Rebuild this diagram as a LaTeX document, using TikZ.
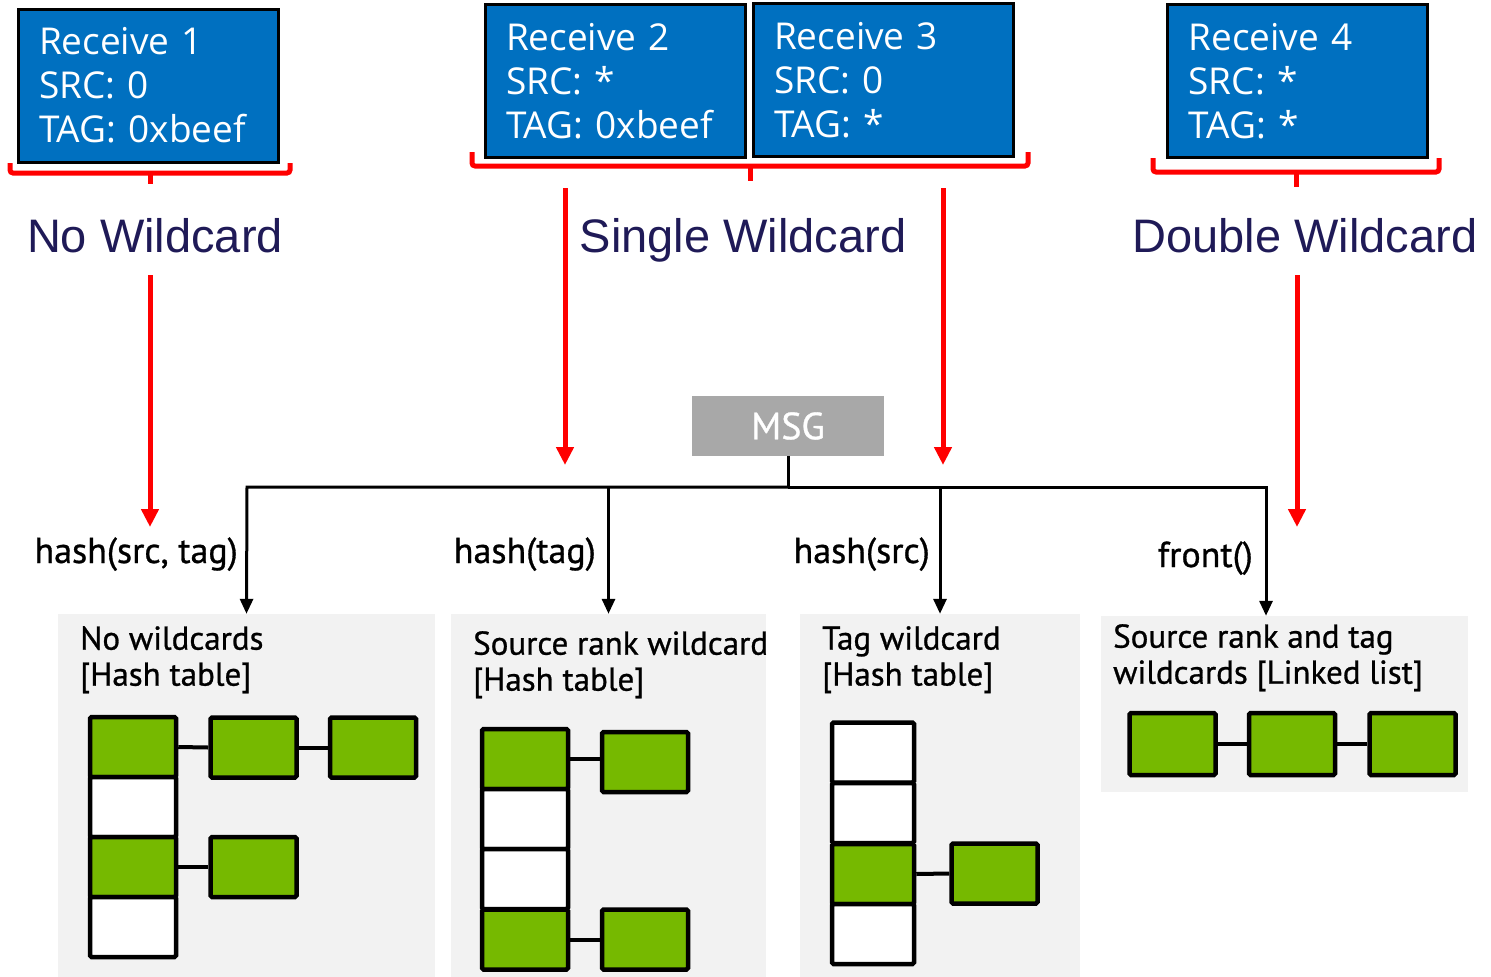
\documentclass[tikz,border=0pt]{standalone}
\usepackage{fontspec}
\setmainfont{Liberation Sans}
\newfontfamily\boxfont{Open Sans}
\newfontfamily\labfont[FakeBold=0.8]{PT Sans}
\usetikzlibrary{arrows.meta}

\definecolor{rblue}{HTML}{0070C0}
\definecolor{bred}{HTML}{FF0000}
\definecolor{navy}{HTML}{1F1A57}
\definecolor{msggray}{HTML}{A8A8A8}
\definecolor{panelgray}{HTML}{F2F2F2}
\definecolor{ngreen}{HTML}{76B900}

\tikzset{
  recvbox/.style={draw=black, line width=3pt, fill=rblue, text=white,
    font=\boxfont\fontsize{37}{44}\selectfont, align=left,
    text width=218pt, inner xsep=21pt, minimum height=153pt},
  brk/.style={draw=bred, line width=5pt, rounded corners=3pt},
  title/.style={text=navy, font=\fontsize{47}{52}\selectfont, anchor=base, inner sep=0pt},
  redarrow/.style={draw=bred, line width=5pt, -{Triangle[width=17pt,length=18pt]}},
  tree/.style={draw=black, line width=3pt},
  treearrow/.style={tree, -{Triangle[width=13pt,length=15pt]}},
  msgbox/.style={fill=msggray, text=white, font=\labfont\fontsize{38}{44}\selectfont,
    minimum width=192pt, minimum height=60pt, inner sep=0pt},
  fnlabel/.style={font=\labfont\fontsize{36}{40}\selectfont, anchor=base east, inner sep=0pt},
  panel/.style={fill=panelgray, inner sep=0pt},
  ptext/.style={font=\labfont\fontsize{33}{36}\selectfont, align=left, anchor=north west, inner sep=0pt},
  cell/.style={draw=black, line width=4.5pt, minimum width=86pt, minimum height=60pt,
    inner sep=0pt, rounded corners=1.5pt},
  cellg/.style={cell, fill=ngreen},
  cellw/.style={cell, fill=white},
  link/.style={draw=black, line width=4pt}
}

\begin{document}
\begin{tikzpicture}[x=1pt, y=-1pt]
\useasboundingbox (0,0) rectangle (1491,977);

% receive requests
\node[recvbox] (r1) at (148,85.5) {Receive 1\\SRC: 0\\TAG: 0xbeef};
\node[recvbox] (r2) at (615,81) {Receive 2\\SRC: *\\TAG: 0xbeef};
\node[recvbox] (r3) at (883,80) {Receive 3\\SRC: 0\\TAG: *};
\node[recvbox] (r4) at (1297.5,81) {Receive 4\\SRC: *\\TAG: *};

% grouping brackets
\draw[brk] (10,163) -- (10,173) -- (290,173) -- (290,163);
\draw[brk] (150,173) -- (150,184);
\draw[brk] (472,152) -- (472,166) -- (1028,166) -- (1028,152);
\draw[brk] (750,166) -- (750,181);
\draw[brk] (1153,158) -- (1153,172) -- (1439,172) -- (1439,158);
\draw[brk] (1296,172) -- (1296,187);

% category titles
\node[title] (t1) at (155,252) {No Wildcard};
\node[title] (t2) at (743,252) {Single Wildcard};
\node[title] (t3) at (1305,252) {Double Wildcard};

% red arrows
\coordinate (a1s) at (150,275);  \coordinate (a1e) at (150,527);
\coordinate (a2s) at (565,188);  \coordinate (a2e) at (565,465);
\coordinate (a3s) at (943,188);  \coordinate (a3e) at (943,465);
\coordinate (a4s) at (1297,275); \coordinate (a4e) at (1297,527);
\draw[redarrow] (a1s) -- (a1e);
\draw[redarrow] (a2s) -- (a2e);
\draw[redarrow] (a3s) -- (a3e);
\draw[redarrow] (a4s) -- (a4e);

% panels
\node[panel, minimum width=377pt, minimum height=363pt] (p1) at (246.5,795.5) {};
\node[panel, minimum width=315pt, minimum height=363pt] (p2) at (608.5,795.5) {};
\node[panel, minimum width=280pt, minimum height=363pt] (p3) at (940,795.5) {};
\node[panel, minimum width=367pt, minimum height=176pt] (p4) at (1284.5,704) {};

% incoming message and its dispatch
\node[msgbox] (msg) at (788,426) {MSG};
\coordinate (bus) at (788,487);
\coordinate (b1) at (247,487);
\coordinate (b2) at (608.5,487);
\coordinate (b3) at (940,487);
\coordinate (b4) at (1266,487);
\draw[tree] (msg.south) -- (bus);
\draw[treearrow] (bus) -- (b1) -- (p1.north);
\draw[treearrow] (b2) -- (p2.north);
\draw[treearrow] (b3) -- (p3.north);
\draw[treearrow] (bus) -- (b4) -- (b4 |- p4.north);

\node[fnlabel] (l1) at (238,563) {hash(src, tag)};
\node[fnlabel] (l2) at (596,563) {hash(tag)};
\node[fnlabel] (l3) at (930,563) {hash(src)};
\node[fnlabel] (l4) at (1253,567) {front()};

% panel captions
\node[ptext] (c1) at (80,626) {No wildcards\\{}[Hash table]};
\node[ptext] (c2) at (473,631) {Source rank wildcard\\{}[Hash table]};
\node[ptext] (c3) at (822,626) {Tag wildcard\\{}[Hash table]};
\node[ptext] (c4) at (1113,624) {Source rank and tag\\wildcards [Linked list]};

% no wildcards: hash table
\node[cellg] (n1) at (133,747) {};
\node[cellw] (n2) at (133,807) {};
\node[cellg] (n3) at (133,867) {};
\node[cellw] (n4) at (133,927) {};
\node[cellg] (n1a) at (253.5,747.5) {};
\node[cellg] (n1b) at (373,747.5) {};
\node[cellg] (n3a) at (253.5,867) {};
\draw[link] (n1.east) -- (n1a.west);
\draw[link] (n1a.east) -- (n1b.west);
\draw[link] (n3.east) -- (n3a.west);

% source rank wildcard: hash table
\node[cellg] (s1) at (525,759) {};
\node[cellw] (s2) at (525,819) {};
\node[cellw] (s3) at (525,879) {};
\node[cellg] (s4) at (525,939.5) {};
\node[cellg] (s1a) at (645,762) {};
\node[cellg] (s4a) at (645,939.5) {};
\draw[link] (s1.east) -- (s1a.west |- s1.east);
\draw[link] (s4.east) -- (s4a.west);

% tag wildcard: hash table
\node[cellw, minimum width=82pt] (g1) at (873,752.5) {};
\node[cellw, minimum width=82pt] (g2) at (873,813) {};
\node[cellg, minimum width=82pt] (g3) at (873,874) {};
\node[cellw, minimum width=82pt] (g4) at (873,934) {};
\node[cellg] (g3a) at (994.5,873.5) {};
\draw[link] (g3.east) -- (g3a.west);

% both wildcards: linked list
\node[cellg, minimum height=62pt] (w1) at (1172.5,744) {};
\node[cellg, minimum height=62pt] (w2) at (1292,744) {};
\node[cellg, minimum height=62pt] (w3) at (1412.5,744) {};
\draw[link] (w1.east) -- (w2.west);
\draw[link] (w2.east) -- (w3.west);
\end{tikzpicture}
\end{document}
